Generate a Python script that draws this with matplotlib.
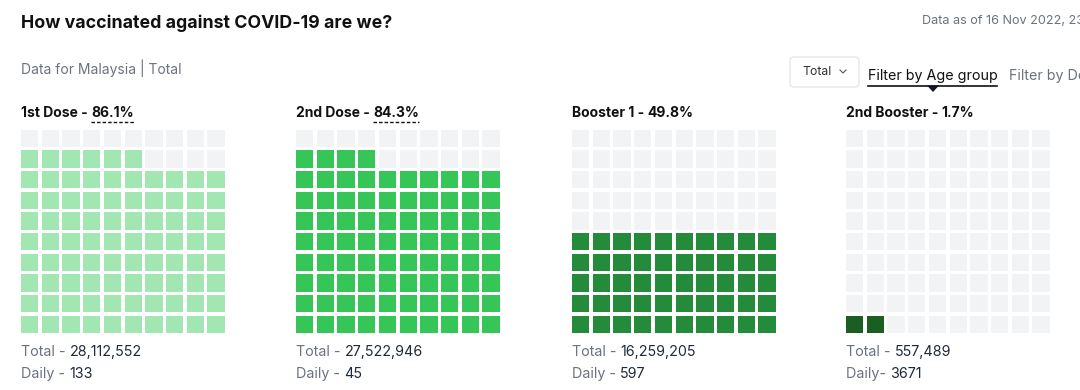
import matplotlib
matplotlib.use("Agg")
import matplotlib.pyplot as plt
from matplotlib.patches import Rectangle, FancyBboxPatch, Polygon

plt.rcParams['font.family'] = ['Inter', 'DejaVu Sans']

# data
doses = ["1st Dose", "2nd Dose", "Booster 1", "2nd Booster"]
pct = [86.1, 84.3, 49.8, 1.7]
totals = ["28,112,552", "27,522,946", "16,259,205", "557,489"]
daily = ["133", "45", "597", "3671"]
daily_labels = ["Daily - ", "Daily - ", "Daily - ", "Daily- "]
colors = ["#a2e6b2", "#36c657", "#238b3a", "#1b5e24"]
empty = "#f2f3f5"

W, H = 1080, 390
fig = plt.figure(figsize=(W / 100, H / 100), dpi=100)
fig.patch.set_facecolor("white")

# helper axes in pixel coordinates for the decorations
bg = fig.add_axes([0, 0, 1, 1])
bg.set_xlim(0, W)
bg.set_ylim(H, 0)
bg.axis("off")

bg.text(21, 23, "How vaccinated against COVID-19 are we?", fontsize=12.8,
        fontweight="bold", color="#111111", va="center")
bg.text(922, 21, "Data as of 16 Nov 2022, 23:59", fontsize=9.1,
        color="#6b7280", va="center")
bg.text(21, 68, "Data for Malaysia | Total", fontsize=10,
        color="#6b7280", va="center")

# dropdown + filters
bg.add_patch(FancyBboxPatch((790, 57), 69, 30, boxstyle="round,pad=0,rounding_size=4",
                            fc="white", ec="#e5e7eb", lw=1))
bg.text(802, 72, "Total", fontsize=8.8, color="#333333", va="center")
bg.plot([840, 843, 846], [70, 73, 70], color="#555555", lw=0.8)
bg.text(868, 76, "Filter by Age group", fontsize=10.3, color="#111111", va="center")
bg.plot([868, 997], [85.5, 85.5], color="#111111", lw=1.2)
bg.add_patch(Polygon([[927, 85.5], [939, 85.5], [933, 92]], closed=True, fc="#111827", ec="none"))
bg.text(1009, 76, "Filter by Dose", fontsize=10.3, color="#6b7280", va="center")

pitch = 20.7
lefts = [21, 296, 572, 846]
top = 129.5

for i, name in enumerate(doses):
    x0 = lefts[i]
    ax = fig.add_axes([x0 / W, 1 - (top + 10 * pitch) / H, 10 * pitch / W, 10 * pitch / H])
    ax.set_xlim(0, 10)
    ax.set_ylim(0, 10)
    ax.axis("off")
    n = int(round(pct[i]))
    for k in range(100):
        r, c = divmod(k, 10)
        fc = colors[i] if k < n else empty
        ax.add_patch(Rectangle((c, r + 0.16), 0.84, 0.84, fc=fc, ec="none"))

    # panel heading
    t = bg.text(x0, 113, name + " - ", fontsize=10, fontweight="bold",
                color="#111111", va="center")
    fig.canvas.draw()
    xp = t.get_window_extent().x1
    t2 = bg.text(xp, 113, f"{pct[i]}%", fontsize=10, fontweight="bold",
                 color="#111111", va="center")
    if i < 2:
        fig.canvas.draw()
        bb2 = t2.get_window_extent()
        bg.plot([xp, bb2.x1], [121.5, 121.5], color="#111111", lw=1, ls=(0, (2.5, 1.5)))

    # totals
    lt = bg.text(x0, 352, "Total - ", fontsize=10.3, color="#6b7280", va="center")
    fig.canvas.draw()
    bg.text(lt.get_window_extent().x1, 352, totals[i], fontsize=10.3, color="#1f2937", va="center")
    ld = bg.text(x0, 374, daily_labels[i], fontsize=10.3, color="#6b7280", va="center")
    fig.canvas.draw()
    bg.text(ld.get_window_extent().x1, 374, daily[i], fontsize=10.3, color="#1f2937", va="center")

fig.savefig("out.png", dpi=100, facecolor="white")
